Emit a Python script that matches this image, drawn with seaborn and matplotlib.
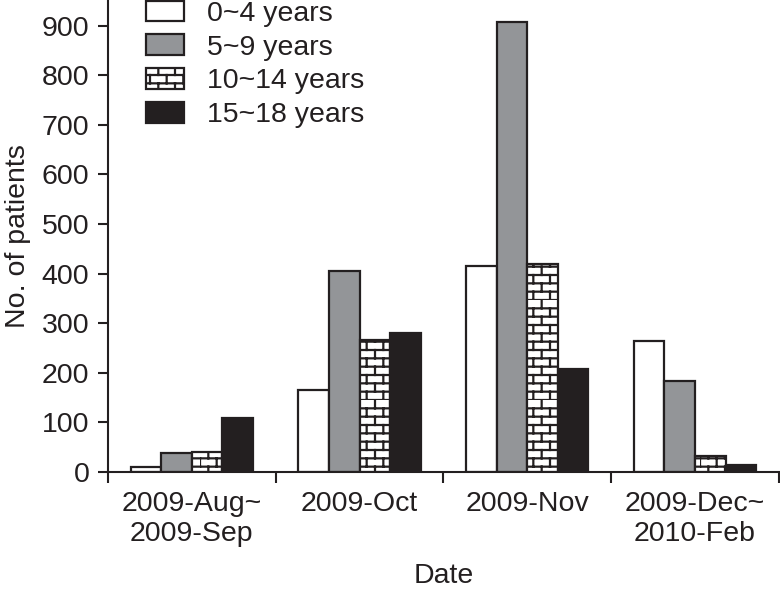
import warnings
import numpy as np
import pandas as pd
import matplotlib
matplotlib.use("Agg")
import matplotlib.pyplot as plt
from matplotlib import hatch as mhatch
from matplotlib.path import Path
import seaborn as sns

warnings.filterwarnings("ignore")

# Data
periods = ["2009-Aug~\n2009-Sep", "2009-Oct", "2009-Nov", "2009-Dec~\n2010-Feb"]
age_groups = ["0~4 years", "5~9 years", "10~14 years", "15~18 years"]
age_0_4 = [10, 165, 415, 264]
age_5_9 = [38, 405, 908, 183]
age_10_14 = [40, 267, 420, 32]
age_15_18 = [108, 280, 207, 14]

colors = ["#ffffff", "#939598", "#ffffff", "#231f20"]
ink = "#231f20"
fs = 20.5


# Brick hatch (matplotlib has none built in)
class BrickHatch(mhatch.HatchPatternBase):
    def __init__(self, hatch, density):
        self.num_rows = int(hatch.count("b") * density)
        if self.num_rows % 2:
            self.num_rows += 1
        n = self.num_rows
        self.num_vertices = (n + n * (n // 2)) * 2 if n else 0

    def set_vertices_and_codes(self, vertices, codes):
        n = self.num_rows
        step = 1.0 / n
        k = 0
        for i in range(n):
            y = i * step
            vertices[k] = (0.0, y)
            vertices[k + 1] = (1.0, y)
            codes[k] = Path.MOVETO
            codes[k + 1] = Path.LINETO
            k += 2
        for i in range(n):
            y0 = i * step
            off = (i % 2) * step
            for j in range(n // 2):
                x = j * 2 * step + off
                vertices[k] = (x, y0)
                vertices[k + 1] = (x, y0 + step)
                codes[k] = Path.MOVETO
                codes[k + 1] = Path.LINETO
                k += 2


mhatch._hatch_types.append(BrickHatch)

df = pd.DataFrame({
    "Date": np.repeat(periods, 4),
    "Age": age_groups * 4,
    "Patients": np.ravel(np.column_stack([age_0_4, age_5_9, age_10_14, age_15_18])),
})

sns.set_style("ticks")
plt.rcParams["font.family"] = ["Liberation Sans", "DejaVu Sans"]
plt.rcParams["hatch.linewidth"] = 1.6
plt.rcParams["hatch.color"] = ink

fig = plt.figure(figsize=(7.8, 5.89), dpi=100)
ax = fig.add_axes([0.1385, 0.1986, 0.86, 0.80])

sns.barplot(data=df, x="Date", y="Patients", hue="Age", order=periods,
            hue_order=age_groups, palette=colors, width=0.73,
            edgecolor=ink, linewidth=1.6, saturation=1, legend=False, ax=ax)

for bar in ax.containers[2]:
    bar.set_hatch("bb")

ax.set_ylim(0, 950)
ax.set_yticks(range(0, 1000, 100))
ax.set_xlim(-0.5, 3.5)
ax.set_xticks(np.arange(-0.5, 4, 1))
ax.set_xticklabels([])
ax.set_xticks(range(4), minor=True)
ax.set_xticklabels(periods, minor=True, fontsize=fs, color=ink, linespacing=1.2)
ax.tick_params(axis="x", which="minor", length=0, pad=14)
ax.tick_params(axis="x", which="major", length=8, width=1.5, color=ink)
ax.tick_params(axis="y", length=7.5, width=1.5, color=ink, labelsize=fs,
               labelcolor=ink, pad=6)

for side in ["top", "right"]:
    ax.spines[side].set_visible(False)
for side in ["left", "bottom"]:
    ax.spines[side].set_linewidth(1.5)
    ax.spines[side].set_color(ink)

ax.set_xlabel("Date", fontsize=fs, color=ink, labelpad=11)
ax.set_ylabel("No. of patients", fontsize=fs, color=ink, labelpad=8)

leg = ax.legend(handles=ax.containers, labels=age_groups, loc="upper left",
                bbox_to_anchor=(0.057, 1.0), frameon=False, fontsize=fs,
                handlelength=1.33, handleheight=0.74, handletextpad=0.8,
                labelspacing=0.26, borderpad=0, borderaxespad=0)
for t in leg.get_texts():
    t.set_color(ink)

fig.savefig("out.png", dpi=100)
